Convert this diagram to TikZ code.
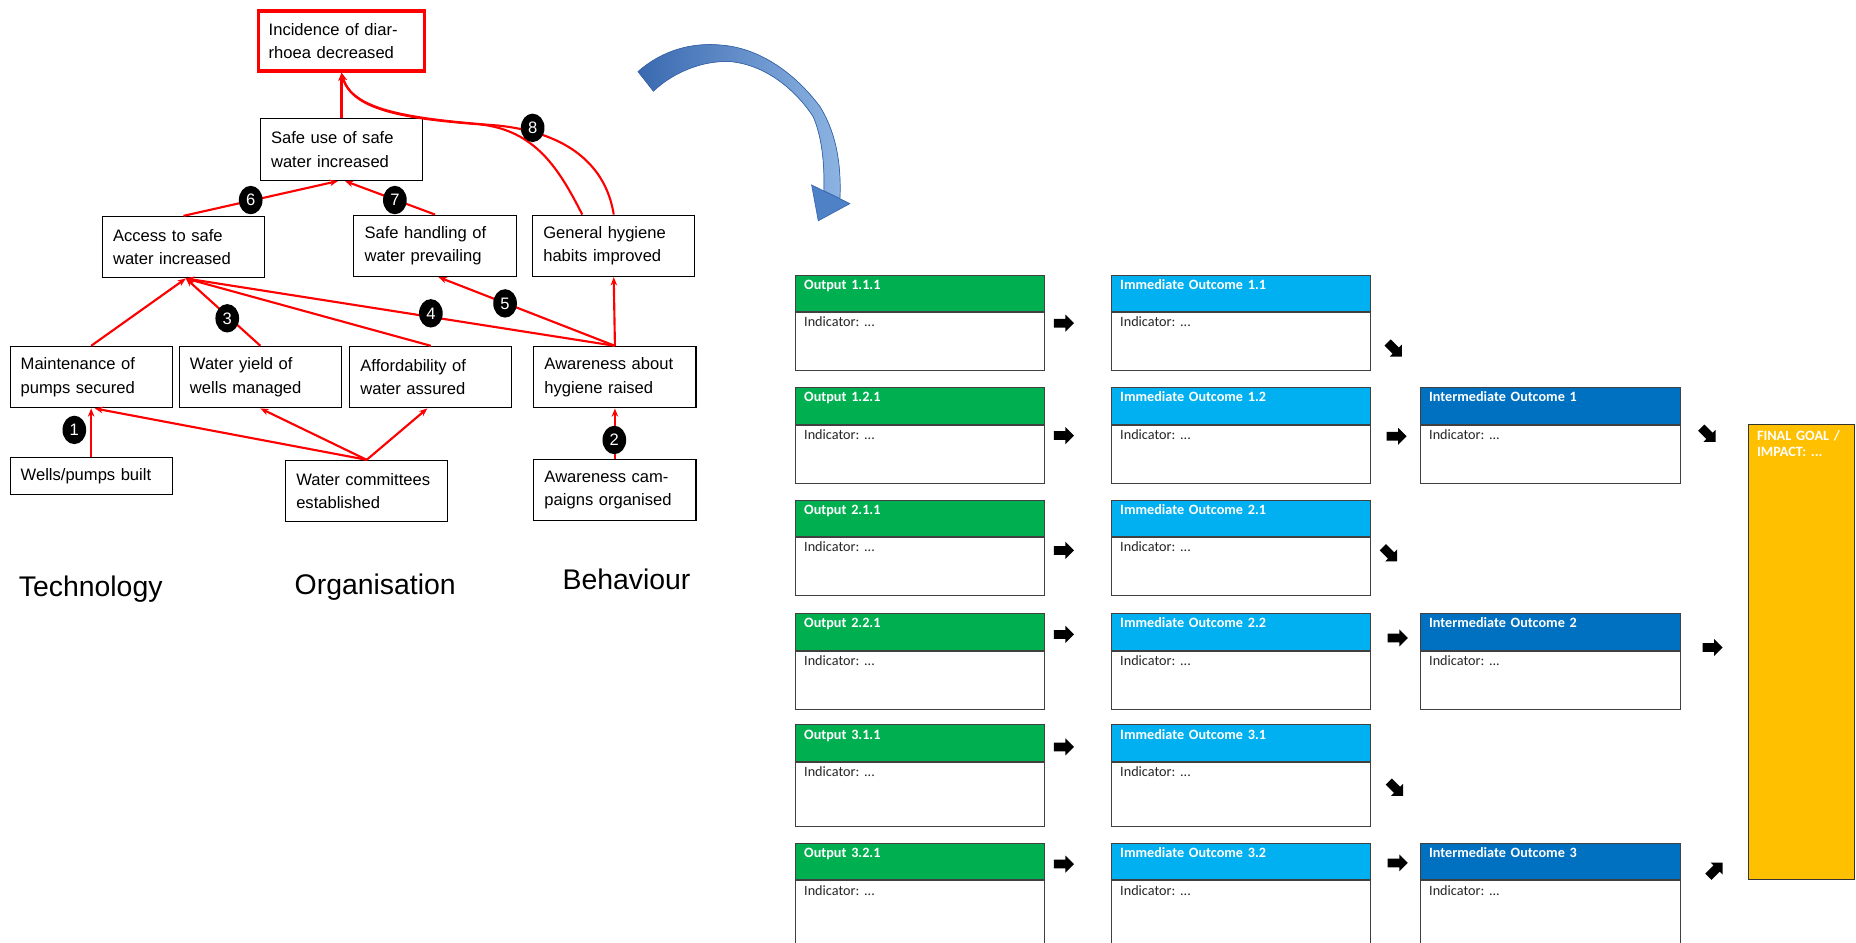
\documentclass[tikz,border=0pt]{standalone}
\usepackage{fontspec}
\setmainfont{Liberation Sans}
\newfontfamily\calib{Carlito}
\usetikzlibrary{
  positioning, arrows.meta,
  shapes.geometric, shapes.arrows
}

\definecolor{outgreen}{HTML}{00B050}
\definecolor{immcyan}{HTML}{00B0F0}
\definecolor{intblue}{HTML}{0070C0}
\definecolor{goalgold}{HTML}{FFC000}
\definecolor{curvedark}{HTML}{3A69B0}
\definecolor{curvelight}{HTML}{8DB4E2}
\definecolor{curvemid}{HTML}{4F81C7}

\tikzset{
  cause/.style={draw, line width=0.9pt, text width=119pt, inner xsep=9pt,
    align=left, minimum height=52pt, font=\fontsize{14}{20}\selectfont},
  link/.style={red, line width=1.8pt, -{Stealth[length=7pt,width=5.5pt]}},
  num/.style={ellipse, fill=black, text=white, minimum width=20pt,
    minimum height=24pt, inner sep=0pt, font=\fontsize{14}{14}\selectfont},
  pillar/.style={anchor=base, font=\fontsize{24}{28}\selectfont},
  hdr/.style={draw=black!75, line width=0.8pt, anchor=north west, align=left,
    inner xsep=7pt, inner ysep=3pt, text height=9pt, text depth=16pt,
    text=white, font=\calib\bfseries\fontsize{12}{14}\selectfont},
  ind/.style={draw=black!75, line width=0.8pt, fill=white, anchor=north west,
    align=left, inner xsep=7pt, inner ysep=3pt, text height=9pt,
    text=black!85, font=\calib\fontsize{12}{14}\selectfont},
  blk/.style={single arrow, fill=black, inner sep=0pt, text height=3.5pt,
    text depth=3.5pt, minimum height=17pt, single arrow head extend=3.5pt}
}

\begin{document}
\begin{tikzpicture}[x=1pt,y=-1pt,node distance=2cm,on grid]
  \useasboundingbox (0,0) rectangle (1568,796);
  \fill[white] (0,0) rectangle (1568,796);
  \clip (0,0) rectangle (1568,796);

  \node[cause, draw=red, line width=3pt, text width=123pt, inner xsep=8.5pt,
    minimum height=50.6pt] (inc) at (288.5,34.7) {Incidence of diar-\\rhoea decreased};
  \node[cause] (safeuse) at (288.5,126.5) {Safe use of safe\\water increased};
  \node[cause] (access) at (155,208.8) {Access to safe\\water increased};
  \node[cause] (handling) at (367.5,207.7) {Safe handling of\\water prevailing};
  \node[cause] (hygiene) at (518.5,207.7) {General hygiene\\habits improved};
  \node[cause] (maint) at (77,318.6) {Maintenance of\\pumps secured};
  \node[cause, right=143pt of maint] (yield) {Water yield of\\wells managed};
  \node[cause, right=144pt of yield] (afford) {Affordability of\\water assured};
  \node[cause, right=155.5pt of afford] (aware) {Awareness about\\hygiene raised};
  \node[cause, minimum height=31pt, below=83.4pt of maint] (wells) {Wells/pumps built};
  \node[cause] (committees) at (309.8,414.9) {Water committees\\established};
  \node[cause, below=95.4pt of aware] (campaigns) {Awareness cam-\\paigns organised};

  \coordinate (accin) at ([xshift=2pt]access.south);
  \path[link]
    (wells.north) edge (maint.south)
    (committees.north) edge ([xshift=3pt]maint.south)
    (committees.north) edge (yield.south)
    (committees.north) edge ([xshift=-3pt]afford.south)
    (campaigns.north) edge (aware.south)
    (maint.north) edge (accin)
    (yield.north) edge (accin)
    (afford.north) edge (accin)
    (aware.north) edge (accin)
    (aware.north) edge ([xshift=3pt]handling.south)
    (aware.north) edge (hygiene.south)
    (access.north) edge ([xshift=-3pt]safeuse.south)
    (handling.north) edge ([xshift=3pt]safeuse.south)
    (safeuse.north) edge (inc.south);
  \draw[link] (hygiene.north) .. controls (512,140) and (480,112) .. (420,106)
    .. controls (340,100) and (297,92) .. (inc.south);
  \draw[link] ([xshift=-26.6pt]hygiene.north) .. controls (472,142) and (452,110) .. (405,105)
    .. controls (338,100) and (297,92) .. (inc.south);

  \node[num] (n1) at (62.8,363.2) {1};
  \node[num] (n2) at (519,371.7) {2};
  \node[num] (n3) at (192,268.9) {3};
  \node[num] (n4) at (364,264.7) {4};
  \node[num] (n5) at (426.7,256.3) {5};
  \node[num] (n6) at (211.8,169) {6};
  \node[num] (n7) at (333.6,169) {7};
  \node[num] (n8) at (450,108) {8};

  \node[pillar] (tech) at (76.6,504) {Technology};
  \node[pillar] (org) at (317,502.6) {Organisation};
  \node[pillar] (beh) at (529.3,498.4) {Behaviour};

  \fill[left color=curvedark, right color=curvelight, draw=curvedark, line width=0.6pt]
    (539,60.5) .. controls (560,42) and (585,36) .. (608,38)
    .. controls (640,40) and (670,60) .. (692.7,90)
    .. controls (705,110) and (711,135) .. (709.6,167.8)
    -- (696,161.2)
    .. controls (697,130) and (692,110) .. (687,98.6)
    .. controls (675,80) and (650,55) .. (616.7,52)
    .. controls (595,51) and (570,60) .. (552,77) -- cycle;
  \fill[curvemid, draw=curvedark, line width=0.6pt]
    (718,172) -- (691.3,186.5) -- (685.7,156.3) -- cycle;

  \foreach \r/\a/\b/\y/\d in {1/1/1/232/34,2/1/2/327/34,3/2/1/422/34,
                              4/2/2/518/34,5/3/1/612/39,6/3/2/712/50}{
    \node[hdr, fill=outgreen, text width=196pt] (out\r) at (672,\y) {Output \a.\b.1};
    \node[ind, text width=196pt, text depth=\d pt] (outi\r) at (out\r.south west) {Indicator:\ ...};
    \node[hdr, fill=immcyan, text width=204pt] (imm\r) at (939,\y) {Immediate Outcome \a.\b};
    \node[ind, text width=204pt, text depth=\d pt] (immi\r) at (imm\r.south west) {Indicator:\ ...};
  }
  \foreach \k/\y/\d in {1/327/34,2/518/34,3/712/50}{
    \node[hdr, fill=intblue, text width=205pt] (int\k) at (1200,\y) {Intermediate Outcome \k};
    \node[ind, text width=205pt, text depth=\d pt] (inti\k) at (int\k.south west) {Indicator:\ ...};
  }
  \node[draw=black!80, line width=0.8pt, fill=goalgold, anchor=north west,
    text width=75pt, inner xsep=7pt, inner ysep=3pt, align=left,
    text height=10.5pt, text depth=368.5pt, text=white,
    font=\calib\bfseries\fontsize{12}{14}\selectfont] (goal) at (1477,358) {FINAL GOAL /\\IMPACT:\ ...};

  \foreach \r/\y in {1/273,2/368,3/465,4/536,5/631,6/730}
    \node[blk] (oa\r) at (897,\y) {};
  \node[blk, rotate=-45] (ib1) at (1177,294) {};
  \node[blk] (ib2) at (1178,368.6) {};
  \node[blk, rotate=-45] (ib3) at (1173,467) {};
  \node[blk] (ib4) at (1179,539) {};
  \node[blk, rotate=-45] (ib5) at (1178,665) {};
  \node[blk] (ib6) at (1179,729) {};
  \node[blk, rotate=-45] (ig1) at (1442,366) {};
  \node[blk] (ig2) at (1445,547) {};
  \node[blk, rotate=45] (ig3) at (1448,736) {};
\end{tikzpicture}
\end{document}
